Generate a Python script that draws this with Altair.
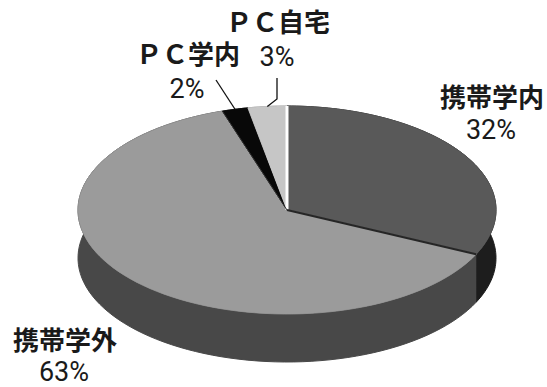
import altair as alt
import pandas as pd

# ---- data ----
categories = ["携帯学内", "携帯学外", "ＰＣ学内", "ＰＣ自宅"]
values = [32, 63, 2, 3]

# ---- styles (not data) ----
top_colors = ["#595959", "#9b9b9b", "#080808", "#c6c6c6"]
side_colors = ["#1d1d1d", "#484848", "#000000", "#8c8c8c"]
edge_colors = ["#ffffff", "#262626", "#303030", "#c6c6c6"]
edge_widths = [3, 2, 1, 0]

# ---- label layout (pixels) ----
name_pos = {"携帯学内": (492, 99), "携帯学外": (65, 342), "ＰＣ学内": (188, 56), "ＰＣ自宅": (278, 24)}
pct_pos = {"携帯学内": (491, 131), "携帯学外": (64, 373), "ＰＣ学内": (187, 90), "ＰＣ自宅": (277, 58)}
leader_start = {"ＰＣ学内": (216, 80), "ＰＣ自宅": (277, 78)}
leader_elbow = {"ＰＣ学内": (216, 80), "ＰＣ自宅": (277, 99)}

W, H = 547, 387
CX, CY, A, B, D = 287, 210, 209, 104, 48
N = 90

data_df = pd.DataFrame({"cat": categories, "value": values, "idx": list(range(len(categories)))})

style_df = pd.DataFrame({
    "cat": categories,
    "top": top_colors,
    "side": side_colors,
    "edge": edge_colors,
    "ew": edge_widths,
    "nx": [name_pos[c][0] for c in categories],
    "ny": [name_pos[c][1] for c in categories],
    "qx": [pct_pos[c][0] for c in categories],
    "qy": [pct_pos[c][1] for c in categories],
    "lx": [leader_start[c][0] if c in leader_start else None for c in categories],
    "ly": [leader_start[c][1] if c in leader_start else None for c in categories],
    "bx": [leader_elbow[c][0] if c in leader_elbow else None for c in categories],
    "by": [leader_elbow[c][1] if c in leader_elbow else None for c in categories],
})

xs = alt.Scale(domain=[0, W], nice=False, zero=False)
ys = alt.Scale(domain=[0, H], nice=False, zero=False, reverse=True)


def X(f):
    return alt.X(f, type="quantitative", scale=xs, axis=None)


def Y(f):
    return alt.Y(f, type="quantitative", scale=ys, axis=None)


base = (
    alt.Chart(data_df)
    .transform_lookup(
        lookup="cat",
        from_=alt.LookupData(style_df, "cat", [c for c in style_df.columns if c != "cat"]),
    )
    .transform_joinaggregate(total="sum(value)")
    .transform_window(cum="sum(value)", sort=[alt.SortField("idx", order="ascending")], frame=[None, 0])
    .transform_calculate(a1="2*PI*(datum.cum - datum.value)/datum.total")
    .transform_calculate(a2="2*PI*datum.cum/datum.total")
)

# side walls
side = (
    base.transform_calculate(k=f"sequence(0, {2 * N + 2})")
    .transform_flatten(["k"])
    .transform_calculate(j=f"datum.k <= {N} ? datum.k : {2 * N + 1} - datum.k")
    .transform_calculate(t=f"datum.a1 + (datum.a2 - datum.a1) * datum.j / {N}")
    .transform_calculate(px=f"{CX} + {A} * sin(datum.t)")
    .transform_calculate(py=f"{CY} - {B} * cos(datum.t) + (datum.k > {N} ? {D} : 0)")
    .mark_line(strokeWidth=1)
    .encode(
        x=X("px"), y=Y("py"),
        order=alt.Order("k:Q"), detail="cat:N",
        fill=alt.Fill("side:N", scale=None),
        stroke=alt.Stroke("side:N", scale=None),
    )
)

# top faces
top = (
    base.transform_calculate(k=f"sequence(-1, {N + 1})")
    .transform_flatten(["k"])
    .transform_calculate(t=f"datum.a1 + (datum.a2 - datum.a1) * max(datum.k, 0) / {N}")
    .transform_calculate(px=f"datum.k < 0 ? {CX} : {CX} + {A} * sin(datum.t)")
    .transform_calculate(py=f"datum.k < 0 ? {CY} : {CY} - {B} * cos(datum.t)")
    .mark_line(strokeWidth=0.8)
    .encode(
        x=X("px"), y=Y("py"),
        order=alt.Order("k:Q"), detail="cat:N",
        fill=alt.Fill("top:N", scale=None),
        stroke=alt.Stroke("top:N", scale=None),
    )
)

# slice boundary edges
edges = (
    base.transform_calculate(c0x=f"{CX}", c0y=f"{CY}")
    .transform_calculate(e2x=f"{CX} + {A} * sin(datum.a1)", e2y=f"{CY} - {B} * cos(datum.a1)")
    .mark_rule()
    .encode(
        x=X("c0x"), y=Y("c0y"), x2="e2x:Q", y2="e2y:Q",
        stroke=alt.Stroke("edge:N", scale=None),
        strokeWidth=alt.StrokeWidth("ew:Q", scale=None),
    )
)

# leader lines
leads = (
    base.transform_filter("isValid(datum.lx)")
    .transform_calculate(k="sequence(0, 3)")
    .transform_flatten(["k"])
    .transform_calculate(mid="(datum.a1 + datum.a2) / 2")
    .transform_calculate(
        px=f"datum.k == 0 ? datum.lx : (datum.k == 1 ? datum.bx : {CX} + {A} * sin(datum.mid))"
    )
    .transform_calculate(
        py=f"datum.k == 0 ? datum.ly : (datum.k == 1 ? datum.by : {CY} - {B} * cos(datum.mid))"
    )
    .mark_line(color="#111111", strokeWidth=1.3)
    .encode(x=X("px"), y=Y("py"), order=alt.Order("k:Q"), detail="cat:N")
)

names = base.mark_text(
    font="Noto Sans CJK JP", fontSize=26, fontWeight="bold", align="center", baseline="middle", color="#1a1a1a"
).encode(x=X("nx"), y=Y("ny"), text="cat:N")

pcts = (
    base.transform_calculate(pct="datum.value + '%'")
    .mark_text(
        font="Liberation Sans Narrow, Roboto, sans-serif",
        fontSize=27, align="center", baseline="middle", color="#1a1a1a",
    )
    .encode(x=X("qx"), y=Y("qy"), text="pct:N")
)

chart = (
    alt.layer(side, top, edges, leads, names, pcts)
    .properties(width=W, height=H, padding=0, autosize=alt.AutoSizeParams(type="none"), background="white")
    .configure_view(stroke=None)
)

chart.save("out.html", embed_options={"renderer": "svg", "actions": False})
